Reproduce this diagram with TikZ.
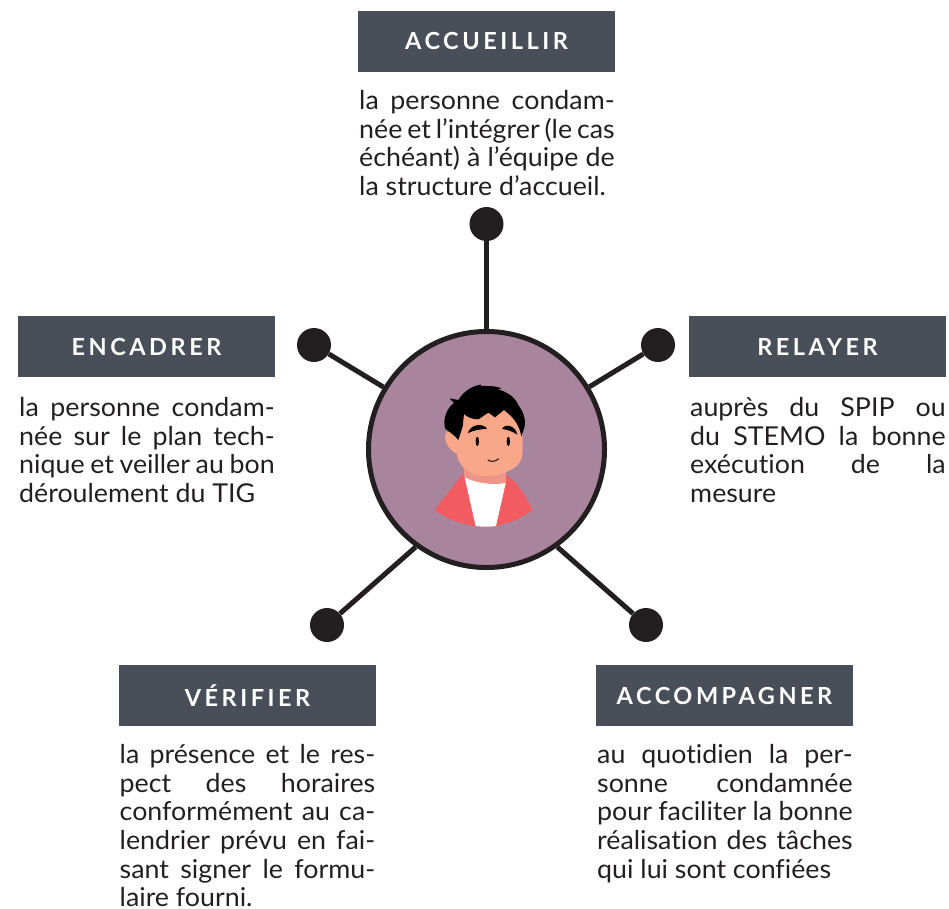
\documentclass[tikz,border=0pt]{standalone}
\usepackage{fontspec}
\usepackage{xcolor}
\setmainfont{Lato}[Ligatures=NoCommon,FakeStretch=1.03]
\newfontfamily\titlefont[LetterSpace=15,Ligatures=NoCommon]{Lato}
\definecolor{slatebox}{HTML}{484F59}
\definecolor{darkline}{HTML}{231F20}
\definecolor{mauve}{HTML}{A9849D}
\definecolor{skin}{HTML}{F8A888}
\definecolor{neck}{HTML}{EE9488}
\definecolor{jacket}{HTML}{F25C60}
\tolerance=9999
\hyphenpenalty=10000
\tikzset{
	titlebox/.style={fill=slatebox, text=white, minimum width=257pt, minimum height=61pt, inner sep=0pt, font=\titlefont\fontsize{23.5}{26}\selectfont\bfseries},
	descbox/.style={anchor=north west, text width=255.5pt, inner sep=0pt, align=justify, text=darkline, font=\fontsize{26}{28.7}\selectfont},
	enddot/.style={circle, fill=darkline, minimum size=34pt, inner sep=0pt},
	spoke/.style={draw=darkline, line width=5pt}
}
\begin{document}
\begin{tikzpicture}[x=1pt,y=-1pt]
	\useasboundingbox (0,0) rectangle (949,908);

	% titles
	\node[titlebox] (accueillir) at (486.5,41.5) {ACCUEILLIR};
	\node[titlebox] (encadrer) at (146.5,346.5) {ENCADRER};
	\node[titlebox] (relayer) at (817.5,346.5) {RELAYER};
	\node[titlebox] (verifier) at (247.5,695.5) {VÉRIFIER};
	\node[titlebox] (accompagner) at (724.5,695.5) {ACCOMPAGNER};

	% texts
	\node[descbox] (accueillirtext) at (359,90) {la personne condam-\linebreak née et l’intégrer (le cas\linebreak échéant) à l’équipe de\linebreak la structure d’accueil.};
	\node[descbox] (encadrertext) at (19,397) {la personne condam-\linebreak née sur le plan tech-\linebreak nique et veiller au bon\linebreak déroulement du TIG};
	\node[descbox] (relayertext) at (690,397) {auprès du SPIP ou\linebreak du STEMO la bonne\linebreak exécution de la\linebreak mesure};
	\node[descbox] (verifiertext) at (119.5,744) {la présence et le res-\linebreak pect des horaires\linebreak conformément au ca-\linebreak lendrier prévu en fai-\linebreak sant signer le formu-\linebreak laire fourni.};
	\node[descbox] (accompagnertext) at (597,744) {au quotidien la per-\linebreak sonne condamnée\linebreak pour faciliter la bonne\linebreak réalisation des tâches\linebreak qui lui sont confiées};

	% hub and dots
	\node[circle, draw=darkline, fill=mauve, line width=5pt, minimum size=236pt, inner sep=0pt] (hub) at (486.5,449.5) {};
	\node[enddot] (dottop) at (486.5,224) {};
	\node[enddot] (dotleft) at (314,345) {};
	\node[enddot] (dotright) at (658,345) {};
	\node[enddot] (dotbl) at (327,625) {};
	\node[enddot] (dotbr) at (646,625) {};

	\draw[spoke] (hub) -- (dottop);
	\draw[spoke] (hub) -- (dotleft);
	\draw[spoke] (hub) -- (dotright);
	\draw[spoke] (hub.234.5) -- (dotbl);
	\draw[spoke] (hub.-54.5) -- (dotbr);

	% person
	\begin{scope}[shift={(360,320)},x=0.3333pt,y=-0.3333pt]
		\fill[jacket] (224,570) -- (310,460) -- (440,466) .. controls (475,490) and (500,530) .. (517,570) .. controls (470,605) and (420,620) .. (375,621) .. controls (320,620) and (265,600) .. (224,570) -- cycle;
		\fill[white] (314,472) -- (437,490) -- (408,618) .. controls (390,621) and (365,621) .. (347,618) -- cycle;
		\fill[neck] (312,440) -- (312,470) .. controls (340,488) and (400,498) .. (438,488) -- (438,440) -- cycle;
		\fill[skin] (262,335) .. controls (248,345) and (255,385) .. (292,402) -- (300,340) -- cycle;
		\fill[skin] (292,300) -- (290,400) .. controls (295,440) and (330,468) .. (375,468) .. controls (420,468) and (470,450) .. (483,420) .. controls (490,400) and (488,370) .. (488,340) -- (470,270) -- (320,270) -- cycle;
		\fill[black] (253,305) .. controls (255,280) and (265,262) .. (282,248) -- (268,235) -- (295,240) .. controls (310,215) and (335,198) .. (362,194) -- (365,198) .. controls (385,198) and (405,197) .. (425,205) -- (413,208) .. controls (440,215) and (465,230) .. (476,257) .. controls (490,275) and (498,300) .. (494,320) -- (484,350) .. controls (480,325) and (470,305) .. (450,285) -- (432,270) -- (405,292) -- (385,278) -- (355,298) .. controls (335,298) and (320,290) .. (312,282) -- (308,320) -- (295,360) .. controls (285,345) and (265,335) .. (255,325) -- cycle;
		\fill[black] (323,340) .. controls (332,312) and (368,308) .. (381,326) .. controls (365,328) and (340,330) .. (323,340) -- cycle;
		\fill[black] (426,327) .. controls (436,308) and (468,318) .. (472,344) .. controls (458,335) and (445,329) .. (426,327) -- cycle;
		\fill[black] (352,364) ellipse (5 and 14);
		\fill[black] (445,364) ellipse (5 and 14);
		\draw[black,line width=0.9pt,line cap=round] (384,420) .. controls (392,426) and (406,426) .. (416,416);
	\end{scope}
\end{tikzpicture}
\end{document}
